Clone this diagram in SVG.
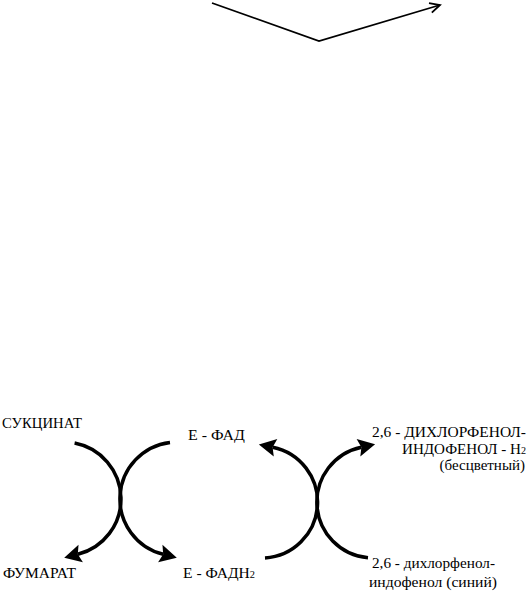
<svg xmlns="http://www.w3.org/2000/svg" width="530" height="592" viewBox="0 0 530 592">
<style>
.t{font-family:"Liberation Serif","Times New Roman",serif;font-size:15px;fill:#000}
.s{font-size:10px}
.arc{fill:none;stroke:#000;stroke-width:3.5;marker-end:url(#ah)}
.top{fill:none;stroke:#000;stroke-width:1.8;marker-end:url(#va)}
</style>
<defs>
<marker id="ah" markerUnits="userSpaceOnUse" markerWidth="20" markerHeight="22" viewBox="-4 -11 20 22" refX="0" refY="0" orient="auto" overflow="visible">
<path d="M14,0 L-3,-9 L0,0 L-3,9 Z" fill="#000"/>
</marker>
<marker id="va" markerUnits="userSpaceOnUse" markerWidth="14" markerHeight="14" viewBox="-12 -7 14 14" refX="0" refY="0" orient="auto" overflow="visible">
<path d="M-10,-5 L0,0 L-10,5" fill="none" stroke="#000" stroke-width="1.8"/>
</marker>
</defs>
<g id="connectors">
<path class="top" d="M212,3 L319,41 L440,5"/>
<path class="arc" d="M74.6,443 A57,57 0 0 1 77.8,554.3"/>
<path class="arc" d="M170,442.4 A57,57 0 0 0 163.2,554.3"/>
<path class="arc" d="M265,558 A56,56 0 0 0 272.6,447.2"/>
<path class="arc" d="M368,557.8 A56,56 0 0 1 361.4,447.2"/>
</g>
<g id="succinate"><text class="t" x="2" y="428" textLength="80" lengthAdjust="spacingAndGlyphs">СУКЦИНАТ</text></g>
<g id="fumarate"><text class="t" x="3" y="578" textLength="73" lengthAdjust="spacingAndGlyphs">ФУМАРАТ</text></g>
<g id="e-fad"><text class="t" x="188" y="440" textLength="57" lengthAdjust="spacingAndGlyphs">Е - ФАД</text></g>
<g id="e-fadh2"><text class="t" x="183" y="578" textLength="72" lengthAdjust="spacingAndGlyphs">Е - ФАДН<tspan class="s">2</tspan></text></g>
<g id="dcpip-h2">
<text class="t" x="372" y="437" textLength="154" lengthAdjust="spacingAndGlyphs">2,6 - ДИХЛОРФЕНОЛ-</text>
<text class="t" x="402" y="454" textLength="124" lengthAdjust="spacingAndGlyphs">ИНДОФЕНОЛ - Н<tspan class="s">2</tspan></text>
<text class="t" x="525" y="470" text-anchor="end">(бесцветный)</text>
</g>
<g id="dcpip">
<text class="t" x="372" y="568" textLength="123" lengthAdjust="spacingAndGlyphs">2,6 - дихлорфенол-</text>
<text class="t" x="369" y="587" textLength="128" lengthAdjust="spacingAndGlyphs">индофенол (синий)</text>
</g>
</svg>
